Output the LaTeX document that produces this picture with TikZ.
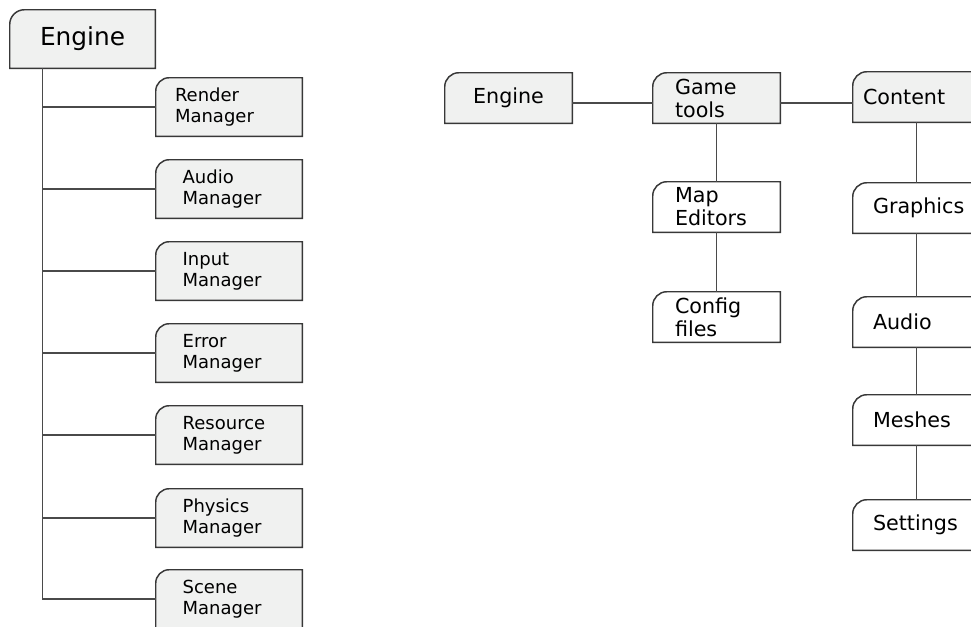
\documentclass[tikz,border=0pt]{standalone}
\usepackage{fontspec}
\setmainfont{DejaVu Sans}
\usetikzlibrary{backgrounds}
\definecolor{boxgray}{HTML}{F0F1F0}
\definecolor{edge}{HTML}{383838}
\definecolor{wire}{HTML}{4A4A4A}

\begin{document}
\begin{tikzpicture}[
  x=0.75pt, y=-0.75pt,
  bigtab/.style={minimum width=108.75pt, minimum height=43.5pt, inner sep=0pt, align=center, font=\fontsize{18.6}{21}\selectfont},
  mgrtab/.style={minimum width=109.5pt, minimum height=43.5pt, inner xsep=20pt, inner ysep=0pt, text width=69.5pt, align=left, font=\fontsize{13.5}{15.75}\selectfont},
  rtab/.style={minimum width=95.25pt, minimum height=37.5pt, inner ysep=0pt, align=left, font=\fontsize{15.5}{17.25}\selectfont},
  link/.style={draw=wire, line width=0.9pt}
]
\useasboundingbox (0,0) rectangle (971,626);
\clip (0,0) rectangle (971,626);

% engine and its managers
\node[bigtab] (eng) at (82.5,39) {Engine};
\node[mgrtab, inner xsep=14.25pt, text width=81pt] (rm) at (229,107) {Render\\Manager};
\node[mgrtab] (am) at (229,189) {Audio\\Manager};
\node[mgrtab] (im) at (229,271) {Input\\Manager};
\node[mgrtab] (erm) at (229,353) {Error\\Manager};
\node[mgrtab] (rsm) at (229,435) {Resource\\Manager};
\node[mgrtab] (phm) at (229,518) {Physics\\Manager};
\node[mgrtab] (scm) at (229,599) {Scene\\Manager};

% engine, tools and content
\node[rtab, align=center, inner xsep=0pt, text width=95.25pt] (eng2) at (508.5,98) {Engine};
\node[rtab, inner xsep=16.5pt, text width=62.25pt] (gt) at (716.5,98) {Game\\tools};
\node[rtab, inner xsep=7.5pt, text width=80.25pt] (ct) at (916.5,97) {Content};
\node[rtab, inner xsep=16.5pt, text width=62.25pt] (me) at (716.5,207) {Map\\Editors};
\node[rtab, inner xsep=16.5pt, text width=62.25pt] (cf) at (716.5,317) {Config\\files};
\node[rtab, inner xsep=15pt, text width=65.25pt] (gr) at (916.5,208) {Graphics};
\node[rtab, inner xsep=15pt, text width=65.25pt] (au) at (916.5,322) {Audio};
\node[rtab, inner xsep=15pt, text width=65.25pt] (ms) at (916.5,420) {Meshes};
\node[rtab, inner xsep=15pt, text width=65.25pt] (st) at (916.5,525) {Settings};

\begin{scope}[on background layer]
\foreach \n/\r/\f in {eng/11pt/boxgray, rm/10pt/boxgray, am/10pt/boxgray, im/10pt/boxgray, erm/10pt/boxgray,
    rsm/10pt/boxgray, phm/10pt/boxgray, scm/10pt/boxgray, eng2/10.5pt/boxgray, gt/10.5pt/boxgray,
    ct/10.5pt/boxgray, me/10.5pt/white, cf/10.5pt/white, gr/10.5pt/white, au/10.5pt/white,
    ms/10.5pt/white, st/10.5pt/white}
  \draw[draw=edge, line width=1.1pt, fill=\f] (\n.south west) -- ([yshift=-\r]\n.north west)
    arc[start angle=180, end angle=90, radius=\r] -- (\n.north east) -- (\n.south east) -- cycle;
\end{scope}

\coordinate (trunk) at ([xshift=24.75pt]eng.south west);
\draw[link] (trunk) |- (scm.west);
\foreach \m in {rm,am,im,erm,rsm,phm}
  \draw[link] (trunk |- \m.west) -- (\m.west);

\draw[link] ([yshift=-3.75pt]eng2.east) -- ([yshift=-3.75pt]gt.west);
\draw[link] ([yshift=-3.75pt]gt.east) -- ([yshift=-3.75pt]gt.east -| ct.west);
\draw[link] (gt) -- (me);
\draw[link] (me) -- (cf);
\draw[link] (ct) -- (gr);
\draw[link] (gr) -- (au);
\draw[link] (au) -- (ms);
\draw[link] (ms) -- (st);
\end{tikzpicture}
\end{document}
